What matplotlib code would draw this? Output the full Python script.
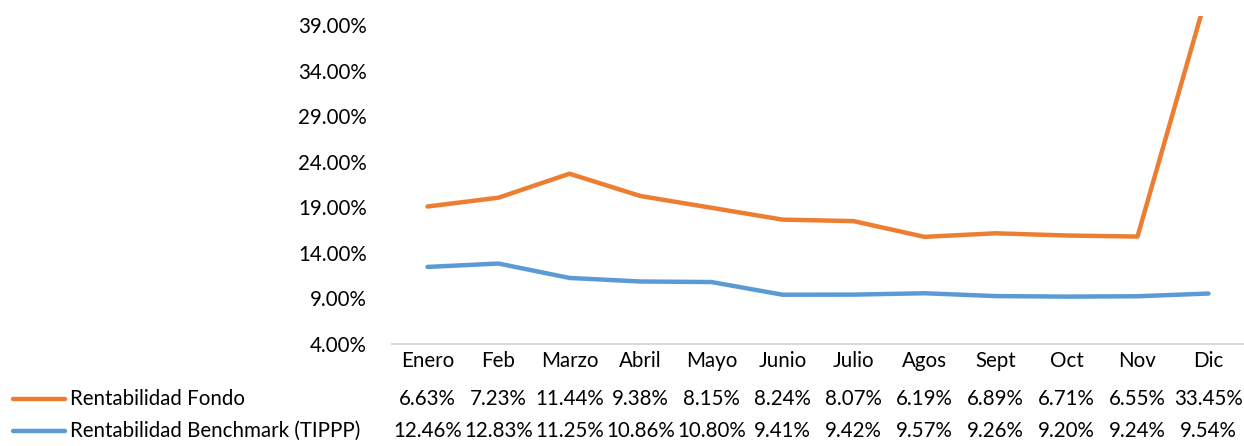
import numpy as np
import matplotlib.pyplot as plt
import matplotlib.transforms as mtransforms
from matplotlib.lines import Line2D

months = ["Enero", "Feb", "Marzo", "Abril", "Mayo", "Junio", "Julio",
          "Agos", "Sept", "Oct", "Nov", "Dic"]
fondo = [6.63, 7.23, 11.44, 9.38, 8.15, 8.24, 8.07, 6.19, 6.89, 6.71, 6.55, 33.45]
benchmark = [12.46, 12.83, 11.25, 10.86, 10.80, 9.41, 9.42, 9.57, 9.26, 9.20, 9.24, 9.54]
series_names = ["Rentabilidad Fondo", "Rentabilidad Benchmark (TIPPP)"]
colors = ["#ED7D31", "#5B9BD5"]

plt.rcParams['font.family'] = ['Lato', 'DejaVu Sans']
fs = 14.8

fig = plt.figure(figsize=(12.44, 4.46), dpi=100)
W, H = 1244, 446
ax = fig.add_axes([392 / W, 1 - 344 / H, (1244 - 392) / W, (344 - 16) / H])

x = np.arange(len(months))
bench = np.array(benchmark) / 100
stacked = (np.array(fondo) + np.array(benchmark)) / 100  # stacked line chart

ax.plot(x, stacked, color=colors[0], lw=3.2, solid_capstyle='round')
ax.plot(x, bench, color=colors[1], lw=3.2, solid_capstyle='round')

ax.set_xlim(-0.5, len(months) - 0.5)
ax.set_ylim(0.04, 0.40)
yt = np.arange(0.04, 0.40, 0.05)
ax.set_yticks(yt)
ax.set_yticklabels([f"{v * 100:.2f}%" for v in yt], fontsize=fs)
ax.tick_params(axis='y', length=0, pad=18)
ax.set_xticks([])
for s in ['top', 'right', 'left']:
    ax.spines[s].set_visible(False)
ax.spines['bottom'].set_color('#D9D9D9')
ax.spines['bottom'].set_linewidth(1.5)

# data table below the axes
trans = mtransforms.blended_transform_factory(ax.transData, fig.transFigure)
row_y = [1 - 361 / H, 1 - 399 / H, 1 - 431 / H]
for i, m in enumerate(months):
    fig.text(i, row_y[0], m, transform=trans, ha='center', va='center', fontsize=fs)
    fig.text(i, row_y[1], f"{fondo[i]:.2f}%", transform=trans, ha='center', va='center', fontsize=fs)
    fig.text(i, row_y[2], f"{benchmark[i]:.2f}%", transform=trans, ha='center', va='center', fontsize=fs)

for name, c, yy in zip(series_names, colors, row_y[1:]):
    fig.add_artist(Line2D([13 / W, 65 / W], [yy, yy], color=c, lw=3.2,
                          solid_capstyle='round', transform=fig.transFigure))
    fig.text(70 / W, yy, name, ha='left', va='center', fontsize=fs)

fig.savefig("out.png", dpi=100)
